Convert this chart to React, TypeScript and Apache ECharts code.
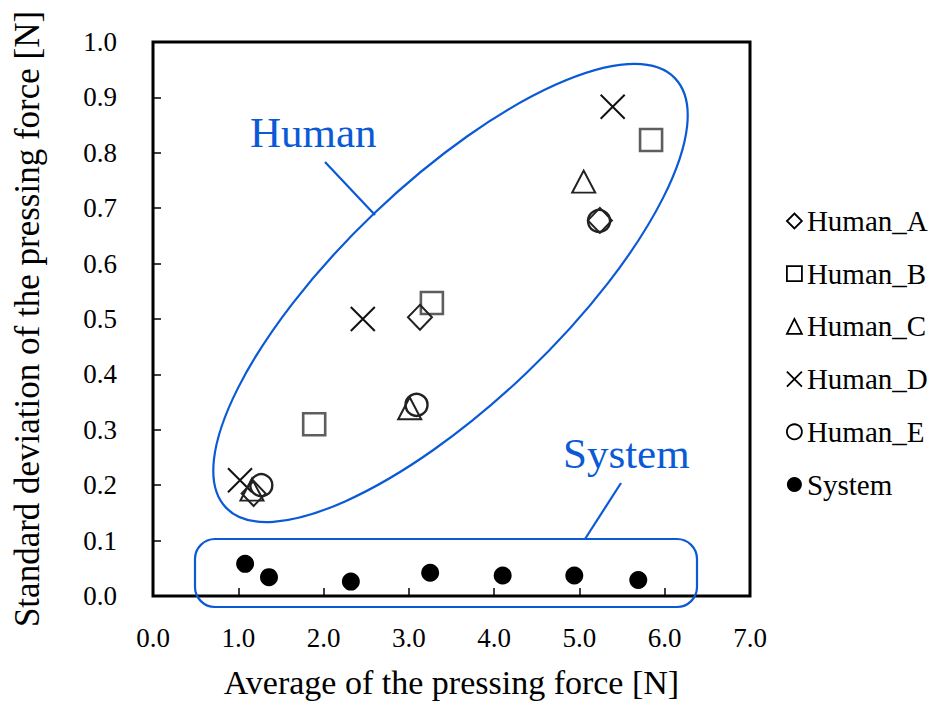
import React, { useEffect, useRef } from "react";
import * as echarts from "echarts";

// Average pressing force [N] vs. standard deviation [N]
const humanA: number[][] = [[1.18, 0.185], [3.13, 0.503], [5.24, 0.678]];
const humanB: number[][] = [[1.89, 0.31], [3.27, 0.529], [5.84, 0.823]];
const humanC: number[][] = [[1.16, 0.192], [3.01, 0.339], [5.05, 0.748]];
const humanD: number[][] = [[1.02, 0.209], [2.46, 0.5], [5.39, 0.883]];
const humanE: number[][] = [[1.27, 0.2], [3.09, 0.345], [5.23, 0.677]];
const system: number[][] = [
  [1.08, 0.058], [1.36, 0.034], [2.32, 0.026], [3.25, 0.042],
  [4.1, 0.037], [4.94, 0.037], [5.69, 0.029],
];

const seriesNames = ["Human_A", "Human_B", "Human_C", "Human_D", "Human_E", "System"];
const xTicks = [0, 1, 2, 3, 4, 5, 6, 7];

const SERIF = "'Liberation Serif', 'Times New Roman', serif";
const BLUE = "#0a5ad6";
const CROSS = "path://M0,0L10,10M10,0L0,10";

export default function App() {
  const ref = useRef<HTMLDivElement>(null);

  useEffect(() => {
    if (!ref.current) return;
    const chart = echarts.init(ref.current, undefined, { renderer: "svg" });

    const outline = (color: string, width: number) => ({
      color: "rgba(0,0,0,0)",
      borderColor: color,
      borderWidth: width,
      opacity: 1,
    });

    chart.setOption({
      animation: false,
      backgroundColor: "#fff",
      textStyle: { fontFamily: SERIF },
      grid: {
        left: 153,
        top: 42,
        right: 185,
        bottom: 105,
        outerBoundsMode: "none",
        containLabel: false,
        show: true,
        borderColor: "#000",
        borderWidth: 3,
        backgroundColor: "transparent",
      },
      xAxis: {
        type: "value",
        min: xTicks[0],
        max: xTicks[xTicks.length - 1],
        interval: 1,
        splitLine: { show: false },
        axisLine: { show: false },
        axisTick: { show: true, inside: true, length: 8, lineStyle: { color: "#000", width: 1.5 } },
        axisLabel: {
          margin: 28,
          fontSize: 27,
          fontFamily: SERIF,
          color: "#000",
          formatter: (v: number) => v.toFixed(1),
        },
        name: "Average of the pressing force [N]",
        nameLocation: "middle",
        nameGap: 69,
        nameTextStyle: { fontSize: 34, fontFamily: SERIF, color: "#000" },
      },
      yAxis: {
        type: "value",
        min: 0,
        max: 1,
        interval: 0.1,
        splitLine: { show: false },
        axisLine: { show: false },
        axisTick: { show: true, inside: true, length: 8, lineStyle: { color: "#000", width: 1.5 } },
        axisLabel: {
          margin: 36,
          fontSize: 27,
          fontFamily: SERIF,
          color: "#000",
          formatter: (v: number) => v.toFixed(1),
        },
        name: "Standard deviation of the pressing force [N]",
        nameLocation: "middle",
        nameGap: 108,
        nameTextStyle: { fontSize: 35, fontFamily: SERIF, color: "#000" },
      },
      legend: {
        orient: "vertical",
        left: 781,
        top: 201,
        itemWidth: 15,
        itemHeight: 15,
        itemGap: 22.7,
        selectedMode: false,
        textStyle: { fontSize: 29, lineHeight: 30, fontFamily: SERIF, color: "#000" },
        data: [
          { name: seriesNames[0], icon: "diamond", itemStyle: outline("#000", 1.8) },
          { name: seriesNames[1], icon: "rect", itemStyle: outline("#000", 1.8) },
          { name: seriesNames[2], icon: "triangle", itemStyle: outline("#000", 1.8) },
          { name: seriesNames[3], icon: CROSS, itemStyle: outline("#000", 1.8) },
          { name: seriesNames[4], icon: "circle", itemStyle: outline("#000", 1.8) },
          { name: seriesNames[5], icon: "circle", itemStyle: { color: "#000", borderWidth: 0 } },
        ],
      },
      series: [
        {
          name: seriesNames[5], type: "scatter", data: system, symbol: "circle", symbolSize: 18,
          itemStyle: { color: "#000", opacity: 1 },
        },
        {
          name: seriesNames[1], type: "scatter", data: humanB, symbol: "rect", symbolSize: 22,
          itemStyle: outline("#5e5e5e", 2.6),
        },
        {
          name: seriesNames[2], type: "scatter", data: humanC, symbol: "triangle", symbolSize: [23, 22],
          itemStyle: outline("#222", 2),
        },
        {
          name: seriesNames[3], type: "scatter", data: humanD, symbol: CROSS, symbolSize: 24,
          itemStyle: outline("#111", 2),
        },
        {
          name: seriesNames[4], type: "scatter", data: humanE, symbol: "circle", symbolSize: 22,
          itemStyle: outline("#222", 2.4),
        },
        {
          name: seriesNames[0], type: "scatter", data: humanA, symbol: "diamond", symbolSize: [24, 25],
          itemStyle: outline("#222", 2),
        },
      ],
      graphic: [
        {
          type: "ellipse",
          x: 450.5,
          y: 293,
          rotation: (43.7 * Math.PI) / 180,
          shape: { cx: 0, cy: 0, rx: 310.6, ry: 110.3 },
          style: { fill: "none", stroke: BLUE, lineWidth: 2.2 },
          z: 100,
        },
        {
          type: "line",
          shape: { x1: 325, y1: 162, x2: 375, y2: 215 },
          style: { stroke: BLUE, lineWidth: 2.2 },
          z: 100,
        },
        {
          type: "text",
          x: 250,
          y: 132,
          style: { text: "Human", fill: BLUE, fontSize: 43, fontFamily: SERIF, verticalAlign: "middle", align: "left" },
          z: 100,
        },
        {
          type: "rect",
          shape: { x: 195, y: 539, width: 502, height: 68, r: 20 },
          style: { fill: "none", stroke: BLUE, lineWidth: 2.2 },
          z: 100,
        },
        {
          type: "line",
          shape: { x1: 585, y1: 539, x2: 621, y2: 483 },
          style: { stroke: BLUE, lineWidth: 2.2 },
          z: 100,
        },
        {
          type: "text",
          x: 563,
          y: 453,
          style: { text: "System", fill: BLUE, fontSize: 43, fontFamily: SERIF, verticalAlign: "middle", align: "left" },
          z: 100,
        },
      ],
    });

    return () => chart.dispose();
  }, []);

  return <div ref={ref} style={{ width: 935, height: 701, position: "absolute", left: 0, top: 0 }} />;
}
